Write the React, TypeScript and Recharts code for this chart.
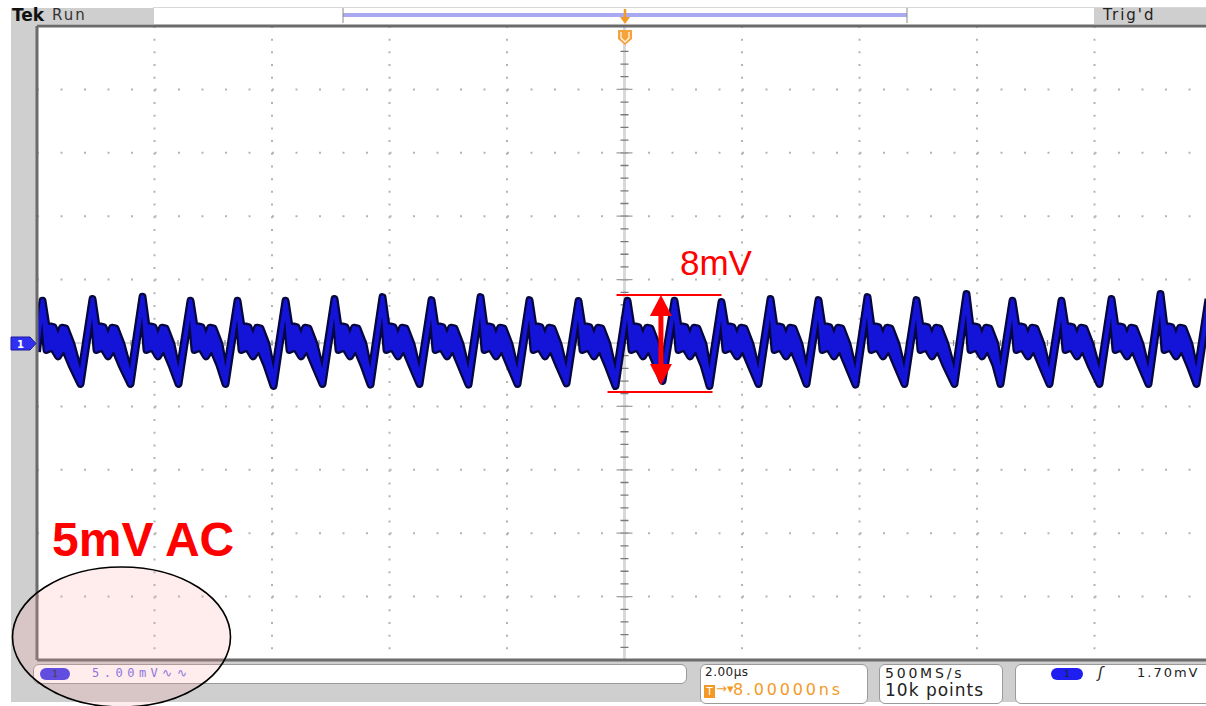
import React from 'react'
import { Area, CartesianGrid, ComposedChart, ReferenceLine, XAxis, YAxis } from 'recharts'

// horizontal: 2 µs/div, trigger at 0 — vertical: 5 mV/div, AC coupled
const majorTimes = [-10, -8, -6, -4, -2, 0, 2, 4, 6, 8, 10]
const minorTimes = [
  -10, -9.6, -9.2, -8.8, -8.4, -8, -7.6, -7.2, -6.8, -6.4, -6, -5.6, -5.2, -4.8, -4.4, -4, -3.6, -3.2, -2.8, -2.4,
  -2, -1.6, -1.2, -0.8, -0.4, 0, 0.4, 0.8, 1.2, 1.6, 2, 2.4, 2.8, 3.2, 3.6, 4, 4.4, 4.8, 5.2, 5.6, 6, 6.4, 6.8,
  7.2, 7.6, 8, 8.4, 8.8, 9.2, 9.6, 10,
]
const majorVolts = [-25, -20, -15, -10, -5, 0, 5, 10, 15, 20, 25]
const minorVolts = [
  -25, -24, -23, -22, -21, -20, -19, -18, -17, -16, -15, -14, -13, -12, -11, -10, -9, -8, -7, -6, -5, -4, -3, -2,
  -1, 0, 1, 2, 3, 4, 5, 6, 7, 8, 9, 10, 11, 12, 13, 14, 15, 16, 17, 18, 19, 20, 21, 22, 23, 24, 25,
]
const centre = [0]

// ripple spikes (µs) and the trace envelope around them (mV)
const peakTimes = [
  -9.906, -9.055, -8.204, -7.387, -6.587, -5.77, -4.936, -4.119, -3.285, -2.451, -1.617, -0.783, 0.051, 0.851,
  1.651, 2.485, 3.302, 4.136, 4.97, 5.821, 6.604, 7.438, 8.289, 9.123, 9.94,
]
const peakTops = [
  3.33, 3.47, 3.65, 3.33, 3.33, 3.33, 3.47, 3.62, 3.38, 3.62, 3.38, 3.31, 3.33, 3.33, 3.23, 3.47, 3.38, 3.62, 3.38, 3.86,
  3.33, 3.33, 3.47, 3.86, 3.47,
]
const troughBottoms = [
  -3.23, -3.23, -3.23, -3.23, -3.23, -3.39, -3.23, -3.28, -3.23, -3.28, -3.23, -3.18, -3.39, -2.99, -3.39, -3.23, -3.23,
  -3.28, -3.23, -3.23, -3.23, -3.23, -3.23, -3.23, -3.23,
]
const troughLead = 0.204
const peakSpread = 0.3
const troughSpread = 0.5
// ringing after each spike: offset from the spike (µs), low and high edge (mV)
const ringOffsets = [0.068, 0.136, 0.187, 0.264, 0.332, 0.391, 0.494]
const ringLow = [-0.55, -0.4, -0.45, -1.05, -0.55, -0.6, -1.75]
const ringHigh = [1.3, 1.3, 1.25, 0.3, 1.2, 1.15, -0.1]

type Pt = { t: number; band: [number, number] }
const wave: Pt[] = [{ t: -10, band: [-0.7, 0.2] }]
peakTimes.forEach((p, i) => {
  if (i > 0) wave.push({ t: p - troughLead, band: [troughBottoms[i], troughBottoms[i] + troughSpread] })
  wave.push({ t: p, band: [peakTops[i] - peakSpread, peakTops[i]] })
  if (i < peakTimes.length - 1) {
    ringOffsets.forEach((o, k) => wave.push({ t: p + o, band: [ringLow[k], ringHigh[k]] }))
  }
})

const gray = '#cfcfcf'
const red = '#ff0000'
const orange = '#f39a26'
const scopeFont = '"DejaVu Sans", Verdana, sans-serif'

function DoubleArrow(p: any) {
  const x = p.x1
  const top = Math.min(p.y1, p.y2)
  const bot = Math.max(p.y1, p.y2)
  const hw = 11
  const hl = 21
  return (
    <g>
      <line x1={x} y1={top + hl - 2} x2={x} y2={bot - hl + 2} stroke={red} strokeWidth={5} />
      <polygon points={`${x},${top} ${x - hw},${top + hl} ${x + hw},${top + hl}`} fill={red} />
      <polygon points={`${x},${bot} ${x - hw},${bot - hl} ${x + hw},${bot - hl}`} fill={red} />
    </g>
  )
}

const box: React.CSSProperties = {
  position: 'absolute',
  background: '#fff',
  border: '1.5px solid #9a9a9a',
  borderRadius: 6,
  boxSizing: 'border-box',
  fontFamily: scopeFont,
  whiteSpace: 'nowrap',
}

const oval: React.CSSProperties = {
  position: 'absolute',
  top: 3,
  height: 12,
  borderRadius: 6,
  color: '#222',
  fontSize: 9,
  textAlign: 'center',
  lineHeight: '12px',
}

export default function App() {
  return (
    <div
      style={{
        position: 'relative',
        width: 1206,
        height: 706,
        overflow: 'hidden',
        background: '#fff',
        fontFamily: '"Liberation Sans", Arial, sans-serif',
      }}
    >
      <style>{'body{margin:0}'}</style>

      {/* screen frame */}
      <div style={{ position: 'absolute', left: 11, top: 8, width: 26, height: 694, background: gray }} />
      <div style={{ position: 'absolute', left: 11, top: 661, width: 1195, height: 41, background: gray }} />
      <div
        style={{
          position: 'absolute',
          left: 153,
          top: 7,
          width: 1053,
          height: 16,
          borderTop: '1px solid #d8d8d8',
          background: '#fff',
        }}
      />
      <div
        style={{
          position: 'absolute',
          left: 11,
          top: 8,
          width: 143,
          height: 16,
          background: gray,
          fontFamily: scopeFont,
          whiteSpace: 'nowrap',
        }}
      >
        <span style={{ position: 'absolute', left: 1, top: -3, fontSize: 17, fontWeight: 700, color: '#111' }}>Tek</span>
        <span style={{ position: 'absolute', left: 41, top: -2, fontSize: 15, color: '#333', letterSpacing: 2 }}>Run</span>
      </div>
      <div
        style={{
          position: 'absolute',
          left: 1094,
          top: 8,
          width: 112,
          height: 16,
          background: gray,
          fontFamily: scopeFont,
          whiteSpace: 'nowrap',
        }}
      >
        <span style={{ position: 'absolute', left: 9, top: -2, fontSize: 15, color: '#222', letterSpacing: 2 }}>
          Trig'd
        </span>
      </div>

      <div style={{ position: 'absolute', left: 0, top: 0 }}>
        <ComposedChart width={1212} height={706} data={wave} margin={{ top: 26, right: 0, bottom: 46, left: 37 }}>
          <XAxis dataKey="t" type="number" domain={[-10, 10]} ticks={majorTimes} interval={0} allowDataOverflow hide />
          <YAxis type="number" domain={[-25, 25]} ticks={majorVolts} interval={0} allowDataOverflow hide />
          <XAxis
            xAxisId="bottom"
            orientation="bottom"
            type="number"
            domain={[-10, 10]}
            ticks={minorTimes}
            interval={0}
            mirror
            tick={false}
            tickSize={5}
            axisLine={{ stroke: '#6b6b6b', strokeWidth: 3 }}
            tickLine={{ stroke: '#808080', strokeWidth: 1.2 }}
          />
          <XAxis
            xAxisId="top"
            orientation="top"
            type="number"
            domain={[-10, 10]}
            ticks={minorTimes}
            interval={0}
            mirror
            tick={false}
            tickSize={4}
            axisLine={{ stroke: '#6b6b6b', strokeWidth: 3 }}
            tickLine={{ stroke: '#808080', strokeWidth: 1.2 }}
          />
          <YAxis
            yAxisId="left"
            orientation="left"
            type="number"
            domain={[-25, 25]}
            ticks={minorVolts}
            interval={0}
            mirror
            tick={false}
            tickSize={4}
            axisLine={{ stroke: '#6b6b6b', strokeWidth: 3 }}
            tickLine={{ stroke: '#808080', strokeWidth: 1.2 }}
          />
          {/* dotted graticule */}
          <CartesianGrid
            vertical={false}
            horizontalValues={majorVolts}
            stroke="#b4b4b4"
            strokeWidth={2}
            strokeDasharray="2 21.5"
          />
          <CartesianGrid
            horizontal={false}
            verticalValues={majorTimes}
            stroke="#b4b4b4"
            strokeWidth={2}
            strokeDasharray="2 10.68"
          />
          {/* centre cross with its minor and major ticks */}
          <CartesianGrid vertical={false} horizontalValues={centre} stroke="#d8d8d8" strokeWidth={2} />
          <CartesianGrid horizontal={false} verticalValues={centre} stroke="#d8d8d8" strokeWidth={3} />
          <CartesianGrid
            horizontal={false}
            verticalValues={centre}
            stroke="#7a7a7a"
            strokeWidth={8}
            strokeDasharray="1.3 11.38"
            strokeDashoffset={0.65}
          />
          <CartesianGrid
            horizontal={false}
            verticalValues={centre}
            stroke="#a0a0a0"
            strokeWidth={16}
            strokeDasharray="1.3 62.1"
            strokeDashoffset={0.65}
          />
          <CartesianGrid
            vertical={false}
            horizontalValues={centre}
            stroke="#8a8a8a"
            strokeWidth={6}
            strokeDasharray="1.2 22.3"
            strokeDashoffset={0.6}
          />
          {/* noisy trace: dark persistence edge under a bright core */}
          <Area
            dataKey="band"
            type="linear"
            fill="#07073f"
            fillOpacity={1}
            stroke="#07073f"
            strokeWidth={8}
            strokeLinejoin="round"
            isAnimationActive={false}
            dot={false}
            activeDot={false}
          />
          <Area
            dataKey="band"
            type="linear"
            fill="#1414d8"
            fillOpacity={1}
            stroke="#1414d8"
            strokeWidth={3.5}
            strokeLinejoin="round"
            isAnimationActive={false}
            dot={false}
            activeDot={false}
          />
          {/* 8 mV peak-to-peak measurement */}
          <ReferenceLine
            segment={[
              { x: -0.136, y: 3.79 },
              { x: 1.651, y: 3.79 },
            ]}
            stroke={red}
            strokeWidth={2}
          />
          <ReferenceLine
            segment={[
              { x: -0.289, y: -3.86 },
              { x: 1.498, y: -3.86 },
            ]}
            stroke={red}
            strokeWidth={2}
          />
          <ReferenceLine
            segment={[
              { x: 0.62, y: 3.79 },
              { x: 0.62, y: -3.31 },
            ]}
            shape={DoubleArrow}
          />
        </ComposedChart>
      </div>

      {/* status boxes */}
      <div style={{ ...box, left: 33, top: 664, width: 654, height: 20 }}>
        <div style={{ ...oval, left: 6, width: 30, background: '#3a3af2' }}>1</div>
        <span
          style={{
            position: 'absolute',
            left: 58,
            top: 1,
            fontSize: 12,
            color: '#6c6cf2',
            letterSpacing: 4.5,
            fontFamily: '"DejaVu Sans Mono", monospace',
          }}
        >
          5.00mV∿∿
        </span>
      </div>
      <div style={{ ...box, left: 700, top: 664, width: 168, height: 40 }}>
        <span style={{ position: 'absolute', left: 4, top: 0, fontSize: 12, color: '#222', letterSpacing: 0.5 }}>2.00µs</span>
        <span
          style={{
            position: 'absolute',
            left: 3,
            top: 20,
            width: 11,
            height: 13,
            background: orange,
            color: '#fff',
            fontSize: 10,
            textAlign: 'center',
            lineHeight: '13px',
          }}
        >
          T
        </span>
        <span style={{ position: 'absolute', left: 15, top: 16, fontSize: 13, color: orange }}>→▾</span>
        <span style={{ position: 'absolute', left: 32, top: 15, fontSize: 16, color: orange, letterSpacing: 2.8 }}>
          8.00000ns
        </span>
      </div>
      <div style={{ ...box, left: 879, top: 664, width: 124, height: 40 }}>
        <span style={{ position: 'absolute', left: 5, top: 0, fontSize: 14, color: '#222', letterSpacing: 2.8 }}>
          500MS/s
        </span>
        <span style={{ position: 'absolute', left: 5, top: 15, fontSize: 17, color: '#222', letterSpacing: 1 }}>
          10k points
        </span>
      </div>
      <div style={{ ...box, left: 1015, top: 664, width: 200, height: 40 }}>
        <div style={{ ...oval, left: 35, width: 32, background: '#1e1ef0' }}>1</div>
        <span style={{ position: 'absolute', left: 82, top: -1, fontSize: 15, color: '#222', fontStyle: 'italic' }}>ʃ</span>
        <span style={{ position: 'absolute', left: 121, top: 0, fontSize: 13, color: '#222', letterSpacing: 2 }}>
          1.70mV
        </span>
      </div>

      {/* screen markers and the annotation ellipse */}
      <svg width={1206} height={706} style={{ position: 'absolute', left: 0, top: 0, pointerEvents: 'none' }}>
        <line x1={343} y1={15} x2={907} y2={15} stroke="#a9a9f2" strokeWidth={4} />
        <line x1={343} y1={8} x2={343} y2={23} stroke="#8a8a8a" strokeWidth={1} />
        <line x1={907} y1={8} x2={907} y2={23} stroke="#8a8a8a" strokeWidth={1} />
        <line x1={625} y1={9} x2={625} y2={19} stroke={orange} strokeWidth={2.5} />
        <polygon points="620,17 630,17 625,24" fill={orange} />
        <path d="M618,30 L632,30 L632,39 L625,45 L618,39 Z" fill="#f7a23a" />
        <path d="M621,32 L621,38 L625,42 L629,38 L629,32" fill="none" stroke="#fff" strokeWidth={1.2} />
        <path d="M11,337 L30,337 L36,343.5 L30,350 L11,350 Z" fill="#3030f2" stroke="#1a1aa0" strokeWidth={1} />
        <text x={17} y={347.5} fontSize={10} fontWeight={700} fill="#fff" fontFamily="DejaVu Sans">
          1
        </text>
        <ellipse cx={121.5} cy={637} rx={109} ry={70} fill="rgba(255,160,160,0.2)" stroke="#000" strokeWidth={1.6} />
      </svg>

      <div
        style={{
          position: 'absolute',
          left: 680,
          top: 245,
          fontSize: 35,
          lineHeight: 1,
          color: red,
          whiteSpace: 'nowrap',
        }}
      >
        8mV
      </div>
      <div
        style={{
          position: 'absolute',
          left: 52,
          top: 516,
          fontSize: 48,
          lineHeight: 1,
          fontWeight: 700,
          color: red,
          whiteSpace: 'nowrap',
        }}
      >
        5mV AC
      </div>
    </div>
  )
}
